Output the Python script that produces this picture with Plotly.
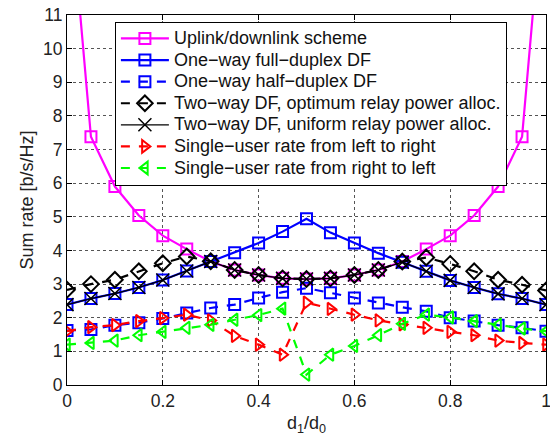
import plotly.graph_objects as go

x = [0, 0.05, 0.1, 0.15, 0.2, 0.25, 0.3, 0.35, 0.4, 0.45, 0.5,
     0.55, 0.6, 0.65, 0.7, 0.75, 0.8, 0.85, 0.9, 0.95, 1.0]

uplink_downlink = [15.5, 7.38, 5.9, 5.04, 4.44, 4.04, 3.67, 3.42, 3.27, 3.17, 3.15,
                   3.17, 3.27, 3.42, 3.67, 4.04, 4.44, 5.04, 5.9, 7.38, 15.5]
oneway_full = [2.39, 2.57, 2.72, 2.90, 3.12, 3.39, 3.67, 3.93, 4.22, 4.56, 4.94,
               4.53, 4.22, 3.92, 3.65, 3.38, 3.11, 2.90, 2.71, 2.57, 2.39]
oneway_half = [1.62, 1.65, 1.78, 1.85, 1.98, 2.14, 2.29, 2.39, 2.59, 2.76, 2.88,
               2.74, 2.59, 2.44, 2.31, 2.19, 2.00, 1.90, 1.78, 1.70, 1.60]
twoway_opt = [2.83, 3.00, 3.13, 3.38, 3.62, 3.82, 3.68, 3.42, 3.27, 3.17, 3.15,
              3.17, 3.27, 3.42, 3.67, 3.79, 3.60, 3.38, 3.13, 2.98, 2.81]
twoway_uni = [2.39, 2.57, 2.72, 2.90, 3.12, 3.39, 3.67, 3.42, 3.27, 3.17, 3.15,
              3.17, 3.27, 3.42, 3.65, 3.38, 3.11, 2.90, 2.71, 2.57, 2.39]
single_lr = [1.60, 1.72, 1.78, 1.90, 1.99, 2.09, 1.92, 1.46, 1.20, 0.90, 2.45,
             2.26, 2.09, 1.92, 1.80, 1.70, 1.58, 1.48, 1.32, 1.25, 1.20]
single_rl = [1.20, 1.25, 1.32, 1.48, 1.58, 1.70, 1.79, 1.94, 2.08, 2.27, 0.31,
             0.90, 1.16, 1.48, 1.82, 2.09, 2.01, 1.90, 1.79, 1.68, 1.60]

names = ["Uplink/downlink scheme",
         "One\u2212way full\u2212duplex DF",
         "One\u2212way half\u2212duplex DF",
         "Two\u2212way DF, optimum relay power alloc.",
         "Two\u2212way DF, uniform relay power alloc.",
         "Single\u2212user rate from left to right",
         "Single\u2212user rate from right to left"]

series = [uplink_downlink, oneway_full, oneway_half, twoway_opt, twoway_uni, single_lr, single_rl]
colors = ["#ff00ff", "#0000ff", "#0000ff", "#000000", "#000000", "#ff0000", "#00ff00"]
dashes = ["solid", "solid", "dash", "dash", "solid", "dash", "dash"]
symbols = ["square-open", "square-open", "square-open", "diamond-open", "x-thin-open",
           "triangle-right-open", "triangle-left-open"]
msizes = [11, 11, 11, 12, 13, 11, 11]
lwidths = [2.2, 2.2, 2.2, 2.2, 1.3, 2.2, 2.2]
mlw = [2, 2, 2, 2, 1.5, 2, 2]

fig = go.Figure()
for name, y, c, d, s, ms, lw, ml in zip(names, series, colors, dashes, symbols, msizes, lwidths, mlw):
    fig.add_trace(go.Scatter(
        x=x, y=y, name='<span style="font-size:18px">' + name + '</span>',
        mode="lines+markers",
        line=dict(color=c, width=lw, dash=d),
        marker=dict(symbol=s, size=ms, color=c, line=dict(width=ml, color=c)),
        cliponaxis=True,
    ))

axis_common = dict(
    showline=True, linecolor="black", linewidth=1.2, mirror="ticks",
    ticks="inside", ticklen=5, tickcolor="black",
    showgrid=True, gridcolor="#555555", griddash="dot", gridwidth=1,
    zeroline=False, automargin=False, ticklabeloverflow="allow",
    tickfont=dict(family="Liberation Sans, Arial, sans-serif", size=17.5, color="#222"),
)

# The page body adds an 8 px offset; size and margins compensate so the
# figure fills the 558x436 window exactly.
fig.update_layout(
    width=550, height=428,
    margin=dict(l=59, r=12, t=7, b=51),
    paper_bgcolor="white", plot_bgcolor="white",
    font=dict(family="Liberation Sans, Arial, sans-serif", color="#222"),
    showlegend=True,
    legend=dict(
        x=0.1, y=0.982, xanchor="left", yanchor="top",
        bgcolor="white", bordercolor="black", borderwidth=1,
        font=dict(size=14.3, color="#111"),
        itemwidth=48,
        tracegroupgap=0,
    ),
    xaxis=dict(range=[0, 1], tickvals=[0, 0.2, 0.4, 0.6, 0.8, 1],
               ticktext=["0", "0.2", "0.4", "0.6", "0.8", "1"],
               title=dict(text="d<sub>1</sub>/d<sub>0</sub>", font=dict(size=18), standoff=7),
               **axis_common),
    yaxis=dict(range=[0, 11], tickvals=list(range(12)),
               title=dict(text="Sum rate [b/s/Hz]", font=dict(size=18), standoff=4),
               **axis_common),
)

fig.write_html("out.html")
